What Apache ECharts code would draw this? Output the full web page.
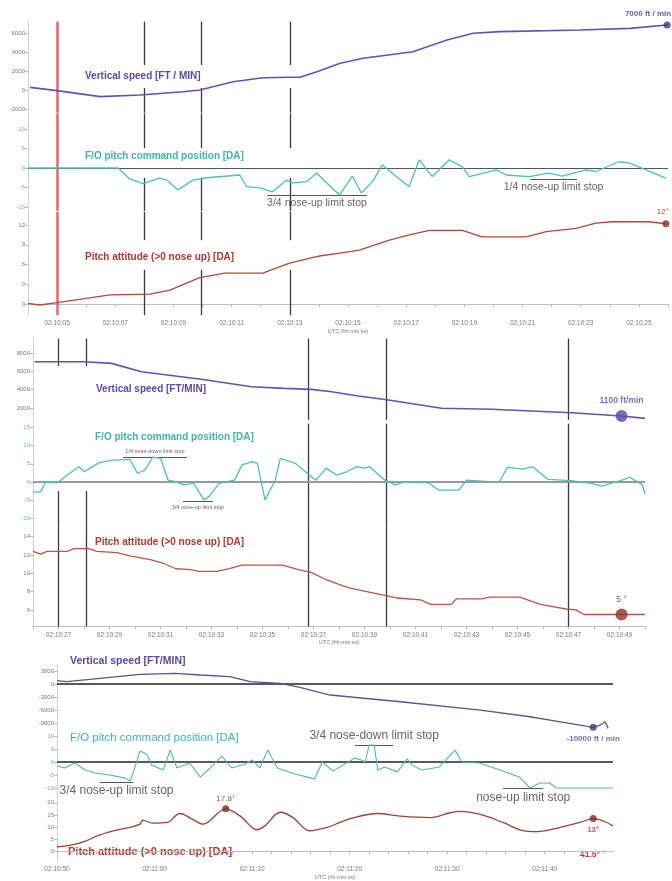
<!DOCTYPE html>
<html>
<head>
<meta charset="utf-8">
<script src="https://cdn.jsdelivr.net/npm/echarts@6/dist/echarts.min.js"></script>
<style>
  html, body { margin: 0; padding: 0; background: #fff; }
  #chart { width: 672px; height: 881px; }
</style>
</head>
<body>
<div id="chart"></div>
<script>
// time is in seconds after 02:10:00 UTC, values as [time, value]

// panel 1 : 02:10:04 - 02:10:26
const p1TimeLabels = [5, 7, 9, 11, 13, 15, 17, 19, 21, 23, 25];
const p1VerticalSpeed = [[4.07, 280], [5.0, -70], [6.48, -700], [7.85, -530], [9.33, -180], [9.91, 0], [11.05, 870], [12.08, 1290], [13.0, 1340], [13.35, 1340], [13.93, 1930], [14.73, 2810], [15.52, 3340], [17.23, 4030], [18.4, 5260], [19.3, 5970], [20.23, 6140], [22.98, 6320], [24.69, 6490], [25.97, 6840]];
const p1PitchCommand = [[4.0, 0], [7.1, 0], [7.5, -2.8], [7.95, -4.0], [8.53, -2.6], [8.77, -3.1], [9.15, -5.6], [9.67, -3.1], [10.15, -2.5], [11.28, -1.8], [11.52, -4.8], [11.97, -5.1], [12.41, -6.1], [12.89, -3.1], [13.1, -3.8], [13.58, -3.5], [13.92, -1.3], [14.26, -3.8], [14.71, -6.9], [15.15, -2.1], [15.46, -6.4], [15.84, -3.5], [16.18, 0.8], [16.66, -2.2], [17.1, -4.8], [17.45, 2.1], [17.9, -2.2], [18.48, 2.1], [18.93, 0.3], [19.17, -2.2], [20.1, -0.5], [20.44, -1.8], [21.23, -2.2], [21.9, -1.3], [22.36, -2.1], [23.18, -0.5], [23.52, -0.9], [24.31, 1.6], [24.66, 1.3], [25.24, -0.5], [25.93, -2.6]];
const p1PitchAttitude = [[4.0, 0.1], [4.4, -0.15], [5.0, 0.2], [6.82, 1.4], [8.19, 1.5], [8.88, 2.1], [9.9, 4.0], [10.76, 4.7], [12.07, 4.7], [12.99, 6.2], [14.02, 7.3], [14.71, 7.75], [15.39, 8.2], [16.42, 9.7], [17.11, 10.5], [17.8, 11.2], [18.93, 11.2], [19.61, 10.2], [21.12, 10.2], [21.81, 11.0], [22.84, 11.5], [23.52, 12.3], [24.07, 12.5], [25.34, 12.5], [25.93, 12.2]];
const p1Events = [7.98, 9.97, 13.0];
const p1RedEvent = [5.0];
// value bands where the event lines are interrupted (one per row)
const p1EventGaps = [[210, 2630], [-2.5, 5.1], [5.2, 9.7]];
const p1Stops = [
  { from: 12.22, to: 15.65, value: -6.9, text: '3/4 nose-up limit stop', below: true },
  { from: 21.26, to: 22.87, value: -2.8, text: '1/4 nose-up limit stop', below: true }
];
const p1SpeedMark = [[25.97, 6840]];
const p1PitchMark = [[25.93, 12.2]];

// panel 2 : 02:10:26 - 02:10:50
const p2TimeLabels = [27, 29, 31, 33, 35, 37, 39, 41, 43, 45, 47, 49];
const p2VerticalSpeed = [[26.06, 7060], [28.02, 7060], [29.08, 6880], [30.25, 5970], [32.6, 5140], [34.57, 4330], [35.86, 4150], [36.92, 4040], [37.71, 3780], [38.76, 3310], [39.94, 2870], [42.02, 1970], [43.98, 1860], [47.12, 1490], [49.08, 1130], [50.0, 870]];
const p2PitchCommand = [[26.0, -2.7], [26.3, -2.7], [26.5, 0.1], [26.8, -0.2], [27.0, 0], [27.4, 2.2], [27.8, 4.2], [28.0, 2.8], [28.6, 5.3], [29.1, 6.0], [29.8, 6.2], [30.1, 2.4], [30.4, 3.3], [30.7, 6.8], [31.0, 6.5], [31.3, 0.5], [31.6, 0.1], [31.9, -0.8], [32.3, -0.4], [32.7, -4.9], [32.9, -4.0], [33.3, -0.4], [33.9, 0.5], [34.2, 4.7], [34.6, 5.6], [34.8, 5.1], [35.1, -4.9], [35.5, 0.5], [35.7, 6.5], [36.3, 5.1], [36.9, 1.5], [37.1, 0.5], [37.5, 3.8], [37.9, 1.9], [38.3, 2.8], [38.7, 4.2], [39.0, 3.8], [39.2, 4.2], [39.8, 0.5], [40.2, -0.8], [40.6, 0.1], [41.5, -0.2], [41.9, -2.2], [42.7, -2.2], [43.0, 0.5], [43.9, 0.1], [44.3, 0.1], [44.6, 4.0], [45.2, 3.5], [45.6, 4.2], [46.2, 0.7], [47.1, 0.4], [47.9, -0.4], [48.3, -1.1], [49.1, 0.5], [49.4, 1.3], [49.9, -0.8], [50.0, -3.3]];
const p2PitchAttitude = [[26.0, 12.4], [26.3, 12.1], [26.55, 12.4], [27.35, 12.4], [27.6, 12.7], [28.2, 12.7], [28.5, 12.4], [29.3, 12.25], [29.8, 11.9], [30.6, 11.5], [31.1, 11.1], [31.6, 10.5], [32.2, 10.4], [32.5, 10.2], [33.2, 10.2], [33.7, 10.5], [34.2, 10.9], [35.8, 10.9], [36.4, 10.4], [36.9, 10.1], [37.5, 9.3], [38.0, 8.8], [38.4, 8.4], [39.6, 7.7], [40.3, 7.3], [41.2, 7.1], [41.6, 6.6], [42.4, 6.6], [42.6, 7.2], [43.6, 7.2], [43.9, 7.4], [45.1, 7.4], [45.5, 7.0], [45.9, 6.6], [46.9, 6.1], [47.3, 6.0], [47.6, 5.5], [49.08, 5.5], [50.0, 5.5]];
const p2Events = [27.0, 28.1, 36.8, 39.86, 47.0];
const p2GappedEvents = [27.0, 28.1];
const p2EventGaps = [[700, 6600], [-2.5, 16], null];
const p2Stops = [
  { from: 29.53, to: 32.04, value: 6.85, text: '1/4 nose-down limit stop', below: false },
  { from: 31.88, to: 33.06, value: -5.4, text: '3/4 nose-up limit stop', below: true }
];
const p2SpeedMark = [[49.08, 1130]];
const p2PitchMark = [[49.08, 5.5]];

// panel 3 : 02:10:50 - 02:11:47
const p3TimeLabels = [50, 60, 70, 80, 90, 100];
const p3VerticalSpeed = [[50.0, 760], [51.0, 530], [54.4, 1320], [58.5, 2240], [62.1, 2470], [64.7, 2080], [67.7, 1690], [69.8, 530], [72.9, 160], [74.9, -760], [78.0, -2540], [85.2, -4090], [93.4, -6000], [98.5, -7550], [101.6, -8710], [104.97, -10000], [105.7, -9470], [106.2, -8710], [106.5, -10230]];
const p3PitchCommand = [[50.1, -1.5], [50.8, -2.3], [51.8, -0.4], [52.9, -3.1], [53.9, -4.2], [55.4, -5.0], [57.0, -6.2], [57.5, -7.3], [57.9, -3.1], [58.5, 4.2], [59.2, 3.1], [59.7, -1.2], [60.9, -3.1], [61.6, 4.6], [62.3, -2.3], [63.6, -0.4], [64.7, -5.8], [65.7, -2.3], [66.9, 2.3], [67.9, -2.3], [69.3, -0.8], [70.0, 0.8], [70.8, -2.3], [71.6, 4.6], [72.6, -2.3], [74.4, -4.6], [76.4, -6.5], [77.2, 0], [78.3, -3.5], [79.5, -0.8], [80.5, 1.5], [81.2, 0.8], [81.6, 0], [82.0, 6.5], [82.5, 6.5], [82.9, -3.1], [83.6, -1.9], [84.9, -3.8], [85.9, 1.2], [86.4, -1.2], [87.4, -3.1], [89.2, -1.9], [90.8, 4.6], [91.5, 0], [93.3, -0.4], [95.4, -3.1], [97.4, -5.8], [98.5, -10.0], [99.5, -8.1], [100.5, -8.1], [101.2, -10.0], [107.0, -10.0]];
const p3PitchAttitude = [[50.0, 1.9], [51.0, 2.3], [52.7, 3.9], [54.4, 6.8], [56.2, 8.9], [57.5, 9.9], [58.5, 11.2], [58.8, 12.9], [59.8, 11.6], [61.3, 11.9], [62.6, 15.6], [63.9, 13.2], [64.97, 11.2], [67.3, 17.5], [68.8, 14.5], [70.5, 8.9], [71.3, 10.5], [72.9, 16.1], [74.2, 13.9], [75.9, 8.5], [77.7, 9.9], [79.0, 11.9], [80.05, 13.5], [82.8, 15.6], [85.2, 14.5], [88.3, 13.9], [90.3, 15.9], [91.3, 16.5], [93.4, 15.2], [95.7, 11.9], [97.8, 8.5], [99.2, 8.1], [101.6, 9.9], [103.6, 11.9], [104.97, 13.5], [106.0, 12.5], [107.0, 10.5]];
const p3Stops = [
  { from: 80.56, to: 84.46, value: 6.5, text: '3/4 nose-down limit stop', below: false },
  { from: 54.41, to: 57.79, value: -7.6, text: '3/4 nose-up limit stop', below: true },
  { from: 95.74, to: 99.85, value: -10.1, text: 'nose-up limit stop', below: true }
];
const p3SpeedMark = [[104.97, -10000]];
const p3PitchMarks = [[67.3, 17.5], [104.97, 13.5]];

const PURPLE = '#6552b0';
const TEAL = '#4cc2b4';
const RED = '#ad4a3c';
const AXIS = '#bdbdbd';
const LABEL = '#7a7a7a';

function timeLabel(sec) {
  const m = 10 + Math.floor(sec / 60);
  const s = Math.round(sec - Math.floor(sec / 60) * 60);
  return '02:' + String(m).padStart(2, '0') + ':' + String(s).padStart(2, '0');
}
function steps(a, b, d) {
  const out = [];
  for (let v = a; v <= b + 1e-9; v += d) out.push(+v.toFixed(3));
  return out;
}
function stopLines(stops, fontSize) {
  return stops.map(s => [
    {
      coord: [s.from, s.value],
      lineStyle: { color: '#555', width: 1, type: 'solid' },
      label: {
        show: true, formatter: s.text, color: '#666', fontSize: fontSize,
        position: s.below ? 'insideMiddleBottom' : 'insideMiddleTop', distance: 3
      }
    },
    { coord: [s.to, s.value] }
  ]);
}
// an event line, either full height or split around a gap band
function eventLine(t, row, gap, style) {
  if (!gap) return [{ xAxis: t, lineStyle: style }];
  const lo = Math.max(gap[0], row.min), hi = Math.min(gap[1], row.max);
  const out = [];
  if (lo > row.min) out.push([{ coord: [t, row.min], lineStyle: style }, { coord: [t, lo] }]);
  if (hi < row.max) out.push([{ coord: [t, hi], lineStyle: style }, { coord: [t, row.max] }]);
  return out;
}

const EVENT_STYLE = { color: '#3a3a3a', width: 1.3, type: 'solid' };
const RED_STYLE = { color: '#e06a6a', width: 2.5, type: 'solid' };

const panels = [
  {
    left: 28, right: 4, xMin: 4, xMax: 26, xLabels: p1TimeLabels, xTicks: steps(4, 26, 1), nameGap: 13,
    rows: [
      { top: 21.6, height: 91.2, min: -2400, max: 7200, ticks: [-2000, 0, 2000, 4000, 6000], data: p1VerticalSpeed, color: PURPLE, width: 1.6 },
      { top: 113.4, height: 97.5, min: -11, max: 14, ticks: [-10, -5, 0, 5, 10], data: p1PitchCommand, color: TEAL, width: 1.3, labelColor: '#5fbcb0',
        zero: { color: '#555', width: 1.2 }, stops: p1Stops, stopFont: 10.5 },
      { top: 211.9, height: 103.3, min: -1.7, max: 14, ticks: [0, 3, 6, 9, 12], data: p1PitchAttitude, color: RED, width: 1.3 }
    ],
    events: p1Events.map(t => ({ t, gaps: p1EventGaps })),
    redEvents: p1RedEvent,
    marks: [
      { row: 0, data: p1SpeedMark, text: '7000 ft / min', color: '#3d3585', size: 7, pos: 'top', align: 'right', offset: [4, -1], font: 8, bold: true },
      { row: 2, data: p1PitchMark, text: '12°', color: '#8a2a20', size: 7, pos: 'top', align: 'right', offset: [3, -1], font: 8, bold: false, textColor: '#8a2a20' }
    ],
    titles: [
      { text: 'Vertical speed [FT / MIN]', x: 85, y: 71, color: '#5a47a8', size: 10, bold: true },
      { text: 'F/O pitch command position [DA]', x: 85, y: 151, color: '#3fb5a8', size: 10, bold: true },
      { text: 'Pitch attitude (>0 nose up) [DA]', x: 85, y: 252, color: '#b0392c', size: 10, bold: true }
    ]
  },
  {
    left: 33, right: 27, xMin: 26, xMax: 50, xLabels: p2TimeLabels, xTicks: steps(26, 50, 1), nameGap: 13,
    rows: [
      { top: 338.5, height: 81.4, min: 700, max: 9600, ticks: [2000, 4000, 6000, 8000], data: p2VerticalSpeed, color: PURPLE, width: 1.6 },
      { top: 423.6, height: 102.2, min: -12, max: 16, ticks: [-10, -5, 0, 5, 10, 15], data: p2PitchCommand, color: TEAL, width: 1.3, labelColor: '#5fbcb0',
        zero: { color: '#9a9a9a', width: 2 }, stops: p2Stops, stopFont: 5.5 },
      { top: 525.7, height: 100.7, min: 4.2, max: 15.2, ticks: [6, 8, 10, 12, 14], data: p2PitchAttitude, color: '#b4584a', width: 1.3 }
    ],
    events: p2Events.map(t => ({ t, gaps: p2GappedEvents.includes(t) ? p2EventGaps : null })),
    redEvents: [],
    marks: [
      { row: 0, data: p2SpeedMark, text: '1100 ft/min', color: '#5a48a8', size: 12, pos: 'top', align: 'center', offset: [0, -2], font: 8.5, bold: true },
      { row: 2, data: p2PitchMark, text: '5 °', color: '#8e3226', size: 12, pos: 'top', align: 'center', offset: [0, -1], font: 8.5, bold: false, textColor: '#8e3226' }
    ],
    titles: [
      { text: 'Vertical speed [FT/MIN]', x: 96, y: 384, color: '#5a47a8', size: 10, bold: true },
      { text: 'F/O pitch command position [DA]', x: 95, y: 432, color: '#3fb5a8', size: 10, bold: true },
      { text: 'Pitch attitude (>0 nose up) [DA]', x: 95, y: 537, color: '#b0392c', size: 10, bold: true }
    ]
  },
  {
    left: 57, right: 59, xMin: 50, xMax: 107, xLabels: p3TimeLabels, xTicks: steps(50, 106, 2), nameGap: 12,
    rows: [
      { top: 664.5, height: 67.2, min: -11000, max: 4500, ticks: [-9000, -6000, -3000, 0, 3000], data: p3VerticalSpeed, color: '#5b5590', width: 1.3,
        zero: { color: '#222', width: 1.6 } },
      { top: 732.1, height: 62.4, min: -12.5, max: 11.5, ticks: [-10, -5, 0, 5, 10], data: p3PitchCommand, color: '#52b8ac', width: 1.1, labelColor: '#5fbcb0',
        zero: { color: '#222', width: 1.6 }, stops: p3Stops, stopFont: 12 },
      { top: 795.5, height: 67.5, min: -4, max: 23, ticks: [0, 5, 10, 15, 20], data: p3PitchAttitude, color: '#9a4236', width: 1.3, smooth: 0.35 }
    ],
    events: [], redEvents: [],
    marks: [
      { row: 0, data: p3SpeedMark, text: '-10000 ft / min', color: '#3f3d70', size: 7, pos: 'bottom', align: 'center', offset: [0, 1], font: 8, bold: true, textColor: '#5a47a8' },
      { row: 2, data: p3PitchMarks.slice(0, 1), text: '17.8°', color: '#7a2a20', size: 7, pos: 'top', align: 'center', offset: [0, 0], font: 8, bold: false, textColor: '#6a2a20' },
      { row: 2, data: p3PitchMarks.slice(1), text: '13°', color: '#7a2a20', size: 7, pos: 'bottom', align: 'center', offset: [0, 1], font: 8, bold: true, textColor: '#b0392c' }
    ],
    titles: [
      { text: 'Vertical speed [FT/MIN]', x: 70, y: 656, color: '#5a47a8', size: 10.5, bold: true },
      { text: 'F/O pitch command position [DA]', x: 70, y: 732, color: '#3fb5a8', size: 11.5, bold: false },
      { text: 'Pitch attitude (>0 nose up) [DA]', x: 68, y: 846, color: '#b0392c', size: 11, bold: true },
      { text: '41.5°', x: 580, y: 850, color: '#c0392b', size: 8.5, bold: true }
    ]
  }
];

const option = { animation: false, grid: [], xAxis: [], yAxis: [], series: [], graphic: [] };

panels.forEach((p, pi) => {
  p.rows.forEach((row, ri) => {
    const gi = pi * 3 + ri;
    const isBottom = ri === 2;
    option.grid.push({ left: p.left, right: p.right, top: row.top, height: row.height });
    option.xAxis.push({
      type: 'value', gridIndex: gi, min: p.xMin, max: p.xMax, show: isBottom,
      axisLine: { show: true, lineStyle: { color: AXIS } },
      axisTick: { show: true, length: 3, customValues: p.xTicks, lineStyle: { color: AXIS } },
      axisLabel: { customValues: p.xLabels, formatter: timeLabel, fontSize: 6.5, color: LABEL, margin: 5 },
      splitLine: { show: false },
      name: isBottom ? 'UTC (hh:mm:ss)' : '', nameLocation: 'middle', nameGap: p.nameGap,
      nameTextStyle: { fontSize: 5.5, color: LABEL }
    });
    option.yAxis.push({
      type: 'value', gridIndex: gi, min: row.min, max: row.max,
      axisLine: { show: true, lineStyle: { color: '#d0d0d0' } },
      axisTick: { show: true, length: 3, customValues: row.ticks, lineStyle: { color: AXIS } },
      axisLabel: { customValues: row.ticks, formatter: v => String(v), fontSize: 6, color: row.labelColor || LABEL, margin: 3 },
      splitLine: { show: false }
    });

    const mark = [];
    p.events.forEach(e => eventLine(e.t, row, e.gaps ? e.gaps[ri] : null, EVENT_STYLE).forEach(m => mark.push(m)));
    p.redEvents.forEach(t => mark.push({ xAxis: t, lineStyle: RED_STYLE }));
    if (row.zero) mark.push({ yAxis: 0, lineStyle: { color: row.zero.color, width: row.zero.width, type: 'solid' } });
    if (row.stops) stopLines(row.stops, row.stopFont).forEach(s => mark.push(s));

    option.series.push({
      type: 'line', xAxisIndex: gi, yAxisIndex: gi, data: row.data,
      showSymbol: false, smooth: row.smooth || false,
      lineStyle: { color: row.color, width: row.width }, z: 3,
      markLine: { silent: true, symbol: 'none', label: { show: false }, data: mark, z: 2 }
    });
  });

  p.marks.forEach(m => {
    const gi = pi * 3 + m.row;
    option.series.push({
      type: 'scatter', xAxisIndex: gi, yAxisIndex: gi, data: m.data, z: 5,
      symbolSize: m.size, itemStyle: { color: m.color },
      label: {
        show: true, formatter: m.text, position: m.pos, align: m.align, offset: m.offset,
        color: m.textColor || m.color, fontSize: m.font, fontWeight: m.bold ? 'bold' : 'normal', distance: 3
      }
    });
  });

  p.titles.forEach(t => {
    option.graphic.push({
      type: 'text', left: t.x, top: t.y, silent: true,
      style: { text: t.text, fill: t.color, font: (t.bold ? 'bold ' : '') + t.size + 'px "Liberation Sans", Arial, sans-serif' }
    });
  });
});

const chart = echarts.init(document.getElementById('chart'));
chart.setOption(option);
</script>
</body>
</html>
